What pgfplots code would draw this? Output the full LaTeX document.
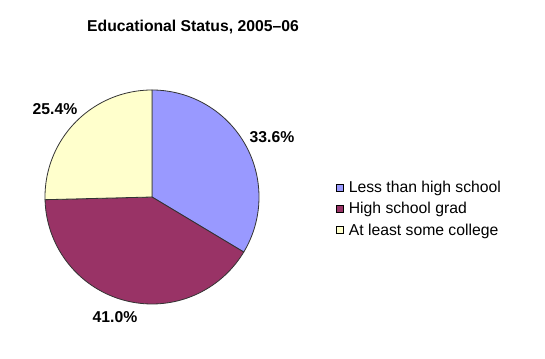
\documentclass[border=0pt]{standalone}
\usepackage{pgfplots}
\pgfplotsset{compat=1.18}
\usepackage{fontspec}
\setmainfont{Liberation Sans}
\definecolor{cA}{HTML}{9999FF}
\definecolor{cB}{HTML}{993366}
\definecolor{cC}{HTML}{FFFFCC}
\begin{document}
\begin{tikzpicture}
\begin{axis}[
  width=408.75pt, height=269.25pt, scale only axis,
  xmin=0, xmax=545, ymin=0, ymax=359,
  hide axis, clip=false,
  legend style={at={(axis cs:336,180)}, anchor=north west, draw=none, fill=none,
    font=\fontsize{11.8pt}{13pt}\selectfont, row sep=2.9pt, inner sep=0pt,
    nodes={inner xsep=3.5pt, inner ysep=1.5pt}},
  legend cell align=left,
  legend image code/.code={\draw[#1, draw=black, line width=0.5pt] (0pt,-2.4pt) rectangle (5.4pt,3.0pt);},
]
\path (axis cs:0,0) rectangle (axis cs:545,359);
% values: 33.6, 41.0, 25.4 (percent), clockwise from top
\addplot[fill=cA, draw=black!80, line width=0.6pt, domain={90-33.6*3.6}:90, samples=80, variable=\t]
  ({152+107*cos(\t)},{162+107*sin(\t)}) -- (axis cs:152,162) -- cycle;
\addplot[fill=cB, draw=black!80, line width=0.6pt, domain={90-(33.6+41.0)*3.6}:{90-33.6*3.6}, samples=80, variable=\t]
  ({152+107*cos(\t)},{162+107*sin(\t)}) -- (axis cs:152,162) -- cycle;
\addplot[fill=cC, draw=black!80, line width=0.6pt, domain={90-100*3.6}:{90-(33.6+41.0)*3.6}, samples=80, variable=\t]
  ({152+107*cos(\t)},{162+107*sin(\t)}) -- (axis cs:152,162) -- cycle;
\legend{Less than high school, High school grad, At least some college}
\node[font=\bfseries\fontsize{11.8pt}{13pt}\selectfont] at (axis cs:193,332) {Educational Status, 2005--06};
\node[font=\bfseries\fontsize{11.8pt}{13pt}\selectfont] at (axis cs:272,221.5) {33.6\%};
\node[font=\bfseries\fontsize{11.8pt}{13pt}\selectfont] at (axis cs:115,41.5) {41.0\%};
\node[font=\bfseries\fontsize{11.8pt}{13pt}\selectfont] at (axis cs:55,250) {25.4\%};
\end{axis}
\end{tikzpicture}
\end{document}
